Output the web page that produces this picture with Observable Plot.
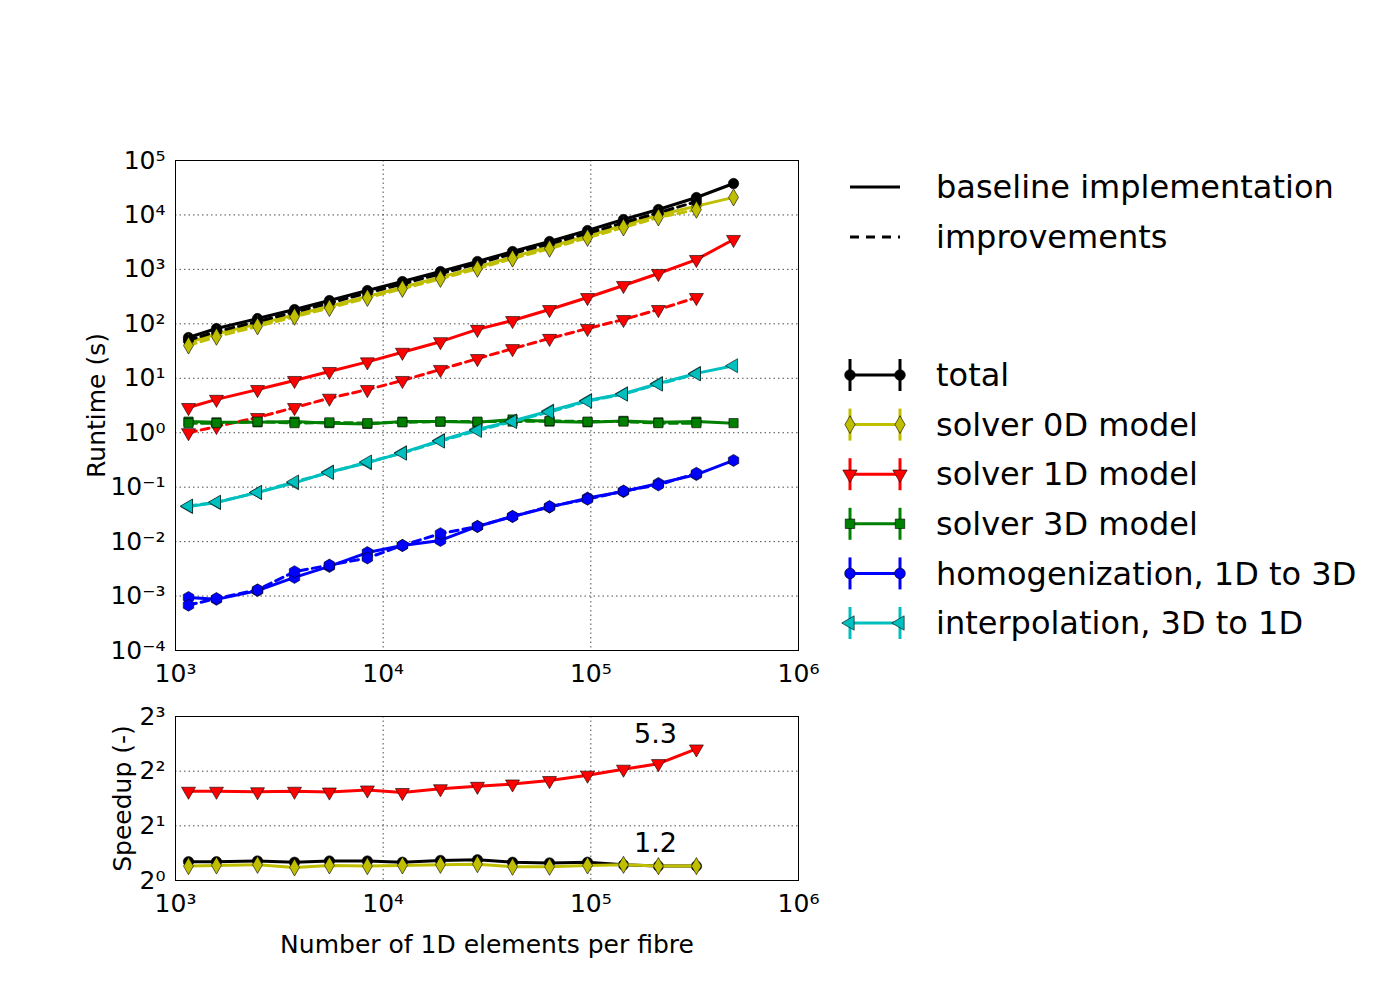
<!DOCTYPE html>
<html>
<head>
<meta charset="utf-8">
<script src="https://cdn.jsdelivr.net/npm/d3@7"></script>
<script src="https://cdn.jsdelivr.net/npm/@observablehq/plot@0.6"></script>
<style>
  body { margin: 0; background: white; font-family: "DejaVu Sans", sans-serif; }
  #wrap { position: relative; width: 1400px; height: 1000px; }
  #wrap > * { position: absolute; left: 0; }
</style>
</head>
<body>
<div id="wrap"></div>
<script>
const ELEMENTS = [1155, 1575, 2483, 3742, 5509, 8395, 12380, 18870, 28440, 41970, 63250, 96400, 143600, 211500, 322400, 486600];

// runtime (s), baseline = 16 points, improvements = 15 points
const TOTAL_BASE = [56, 82, 125, 183, 268, 409, 598, 914, 1396, 2130, 3250, 5175, 8240, 12600, 20900, 37800];
const TOTAL_IMPR = [50, 72, 110, 165, 240, 370, 540, 830, 1270, 1950, 2950, 4600, 7200, 11000, 17500];
const S0D_BASE = [46, 65, 100, 145, 210, 320, 470, 720, 1100, 1700, 2600, 4100, 6500, 10000, 14500, 21000];
const S0D_IMPR = [40, 58, 90, 135, 195, 300, 440, 670, 1030, 1580, 2400, 3800, 5900, 9000, 12500];
const S1D_BASE = [2.9, 4.1, 6.2, 9.1, 13.3, 20, 30, 47, 79, 115, 183, 304, 506, 840, 1517, 3540];
const S1D_IMPR = [1.0, 1.3, 1.9, 2.9, 4.3, 6.2, 9.1, 14.5, 23, 35, 54, 82, 120, 183, 304];
const S3D_BASE = [1.6, 1.55, 1.55, 1.6, 1.5, 1.45, 1.6, 1.6, 1.55, 1.75, 1.6, 1.55, 1.65, 1.55, 1.6, 1.5];
const S3D_IMPR = [1.5, 1.5, 1.6, 1.5, 1.55, 1.5, 1.55, 1.6, 1.6, 1.6, 1.65, 1.6, 1.6, 1.5, 1.5];
const HOMOG_BASE = [0.00094, 0.00087, 0.00126, 0.0022, 0.0035, 0.0063, 0.0085, 0.0105, 0.019, 0.029, 0.043, 0.063, 0.083, 0.117, 0.17, 0.31];
const HOMOG_IMPR = [0.00068, 0.0009, 0.0013, 0.0028, 0.0037, 0.005, 0.0085, 0.014, 0.019, 0.029, 0.044, 0.06, 0.085, 0.11, 0.18];
const INTERP_BASE = [0.044, 0.052, 0.08, 0.12, 0.19, 0.28, 0.43, 0.72, 1.15, 1.65, 2.5, 3.9, 5.2, 8, 12.3, 17];
const INTERP_IMPR = [0.045, 0.053, 0.08, 0.125, 0.185, 0.29, 0.42, 0.7, 1.1, 1.6, 2.4, 3.8, 5.1, 7.8, 12];

// speedup (-)
const SPEED_TOTAL = [1.27, 1.27, 1.28, 1.26, 1.28, 1.28, 1.26, 1.29, 1.3, 1.26, 1.25, 1.26, 1.22, 1.2, 1.2];
const SPEED_0D = [1.2, 1.21, 1.22, 1.18, 1.21, 1.2, 1.21, 1.22, 1.23, 1.19, 1.19, 1.21, 1.22, 1.2, 1.2];
const SPEED_1D = [3.1, 3.1, 3.08, 3.1, 3.07, 3.15, 3.05, 3.2, 3.3, 3.4, 3.55, 3.8, 4.1, 4.4, 5.3];
const NOTES = [{x: 205000, y: 6.4, text: "5.3"}, {x: 205000, y: 1.6, text: "1.2"}];

const SERIES = [
  {name: "total", color: "#000000", symbol: "circle", rotate: 0, base: TOTAL_BASE, impr: TOTAL_IMPR},
  {name: "solver 0D model", color: "#bfbf00", symbol: "diamond", rotate: 0, base: S0D_BASE, impr: S0D_IMPR},
  {name: "solver 1D model", color: "#ff0000", symbol: "triangle", rotate: 180, base: S1D_BASE, impr: S1D_IMPR},
  {name: "solver 3D model", color: "#008000", symbol: "square", rotate: 0, base: S3D_BASE, impr: S3D_IMPR},
  {name: "homogenization, 1D to 3D", color: "#0000ff", symbol: "hexagon", rotate: 0, base: HOMOG_BASE, impr: HOMOG_IMPR},
  {name: "interpolation, 3D to 1D", color: "#00bfbf", symbol: "triangle", rotate: -90, base: INTERP_BASE, impr: INTERP_IMPR},
];

const SUP = {"0": "⁰", "1": "¹", "2": "²", "3": "³", "4": "⁴", "5": "⁵", "6": "⁶", "-": "⁻"};
const sup = s => String(s).split("").map(c => SUP[c]).join("");
const pow10 = d => "10" + sup(Math.round(Math.log10(d)));

const rows = [];
for (const s of SERIES) {
  s.base.forEach((v, i) => rows.push({s: s.name, kind: "base", x: ELEMENTS[i], y: v, ...s}));
  s.impr.forEach((v, i) => rows.push({s: s.name, kind: "impr", x: ELEMENTS[i], y: v, ...s}));
}
const speed = [];
[[SPEED_TOTAL, SERIES[0]], [SPEED_0D, SERIES[1]], [SPEED_1D, SERIES[2]]].forEach(([arr, s]) =>
  arr.forEach((v, i) => speed.push({s: s.name, x: ELEMENTS[i], y: v, ...s})));

const FONT = {fontFamily: '"DejaVu Sans", sans-serif', fontSize: "25px", color: "black", background: "white", overflow: "visible"};
const grid = {stroke: "black", strokeOpacity: 0.7, strokeDasharray: "1.5,3"};

function seriesMarks(data, dash) {
  const marks = [];
  for (const s of SERIES) {
    const d = data.filter(r => r.s === s.name);
    if (!d.length) continue;
    marks.push(Plot.line(d, {x: "x", y: "y", stroke: s.color, strokeWidth: 3, strokeDasharray: dash}));
    marks.push(Plot.dot(d, {x: "x", y: "y", fill: s.color, stroke: "black", strokeWidth: 0.6,
      symbol: () => s.symbol, rotate: s.rotate, r: 5.2}));
  }
  return marks;
}

const main = Plot.plot({
  width: 820, height: 700, marginLeft: 175, marginRight: 22, marginTop: 160, marginBottom: 50,
  style: FONT,
  x: {type: "log", domain: [1e3, 1e6], ticks: [1e3, 1e4, 1e5, 1e6], tickFormat: pow10, tickSize: 0, tickPadding: 14, label: null},
  y: {type: "log", domain: [1e-4, 1e5], ticks: d3.range(-4, 6).map(e => 10 ** e), tickFormat: pow10, tickSize: 0, tickPadding: 10,
      label: "Runtime (s)", labelAnchor: "center", labelArrow: "none", labelOffset: 88},
  symbol: {type: "identity"},
  marks: [
    Plot.gridX([1e4, 1e5], grid),
    Plot.gridY(d3.range(-3, 5).map(e => 10 ** e), grid),
    ...seriesMarks(rows.filter(r => r.kind === "base"), null),
    ...seriesMarks(rows.filter(r => r.kind === "impr"), "8,5"),
    Plot.frame({stroke: "black", strokeWidth: 1}),
  ],
});
main.style.top = "0px";

const low = Plot.plot({
  width: 820, height: 300, marginLeft: 175, marginRight: 22, marginTop: 16, marginBottom: 120,
  style: FONT,
  x: {type: "log", domain: [1e3, 1e6], ticks: [1e3, 1e4, 1e5, 1e6], tickFormat: pow10, tickSize: 0, tickPadding: 14,
      label: "Number of 1D elements per fibre", labelAnchor: "center", labelArrow: "none", labelOffset: 72},
  y: {type: "log", base: 2, domain: [1, 8], ticks: [1, 2, 4, 8], tickFormat: d => "2" + sup(Math.round(Math.log2(d))), tickSize: 0, tickPadding: 10,
      label: "Speedup (-)", labelAnchor: "center", labelArrow: "none", labelOffset: 62},
  symbol: {type: "identity"},
  marks: [
    Plot.gridX([1e4, 1e5], grid),
    Plot.gridY([2, 4], grid),
    ...seriesMarks(speed, null),
    Plot.text(NOTES, {x: "x", y: "y", text: "text", fontSize: 27, fill: "black"}),
    Plot.frame({stroke: "black", strokeWidth: 1}),
  ],
});
low.style.top = "700px";

const wrap = document.getElementById("wrap");
wrap.append(main, low);

// legends
const leg = d3.create("svg").attr("width", 560).attr("height", 700).style("left", "840px").style("top", "0px")
  .style("font-family", '"DejaVu Sans", sans-serif').style("font-size", "32px");
[["baseline implementation", null, 187], ["improvements", "9,7", 237]].forEach(([t, dash, y]) => {
  leg.append("line").attr("x1", 10).attr("x2", 60).attr("y1", y).attr("y2", y)
    .attr("stroke", "black").attr("stroke-width", 3).attr("stroke-dasharray", dash);
  leg.append("text").attr("x", 96).attr("y", y).attr("dy", "0.35em").text(t);
});
const sym = {circle: d3.symbolCircle, diamond: d3.symbolDiamond, triangle: d3.symbolTriangle, square: d3.symbolSquare, hexagon: d3.symbolCircle};
SERIES.forEach((s, i) => {
  const y = 375 + i * 49.6;
  const g = leg.append("g");
  g.append("line").attr("x1", 10).attr("x2", 60).attr("y1", y).attr("y2", y).attr("stroke", s.color).attr("stroke-width", 3);
  for (const x of [10, 60]) {
    g.append("line").attr("x1", x).attr("x2", x).attr("y1", y - 16).attr("y2", y + 16).attr("stroke", s.color).attr("stroke-width", 3);
    g.append("path").attr("d", d3.symbol(sym[s.symbol], 90)()).attr("transform", `translate(${x},${y}) rotate(${s.rotate})`)
      .attr("fill", s.color).attr("stroke", "black").attr("stroke-width", 0.6);
  }
  leg.append("text").attr("x", 96).attr("y", y).attr("dy", "0.35em").text(s.name);
});
wrap.append(leg.node());
</script>
</body>
</html>
